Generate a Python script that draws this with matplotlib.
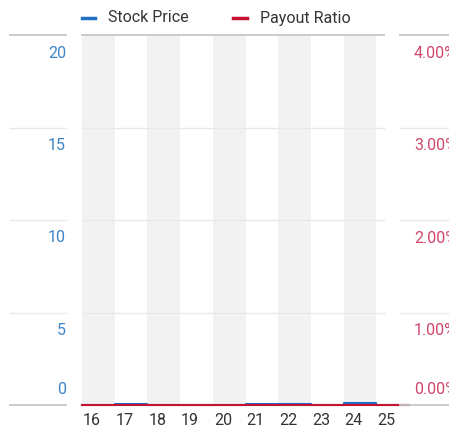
import numpy as np
import matplotlib.pyplot as plt
from matplotlib.lines import Line2D
from matplotlib.transforms import ScaledTranslation

# data
years = ['16', '17', '18', '19', '20', '21', '22', '23', '24', '25']
stock_price = [0.0, 0.08, 0.0, 0.0, 0.0, 0.08, 0.08, 0.0, 0.09, 0.0]
payout_ratio = [0.0, 0.0, 0.0, 0.0, 0.0, 0.0, 0.0, 0.0, 0.0, 0.0]
left_ticks = [0, 5, 10, 15, 20]
right_ticks = [0.0, 0.01, 0.02, 0.03, 0.04]
right_labels = ['0.00%', '1.00%', '2.00%', '3.00%', '4.00%']

plt.rcParams['font.family'] = ['Roboto', 'DejaVu Sans']

blue = '#1f6fc5'
red = '#c41230'
blue_txt = '#3d85c6'
red_txt = '#d1466a'
fs = 11.5

fig = plt.figure(figsize=(4.49, 4.32), dpi=100)
W, H = 449, 432
ax = fig.add_axes([82 / W, 27 / H, 327 / W, 370 / H])
ax2 = ax.twinx()

n = len(years)
ax.set_xlim(-0.5, n - 0.5)
ax.set_ylim(0, 20)
ax2.set_ylim(0, 0.04)

# alternating shaded columns
for i in range(0, n, 2):
    ax.axvspan(i - 0.5, i + 0.5, color='#f2f2f2', lw=0, zorder=0)

x = np.arange(n + 1) - 0.5
ax.plot(x, np.append(stock_price, stock_price[-1]), drawstyle='steps-post',
        color=blue, lw=1.5, zorder=3, clip_on=False)
ax2.plot(x, np.append(payout_ratio, payout_ratio[-1]), drawstyle='steps-post',
         color=red, lw=1.5, zorder=3, clip_on=False)

for a in (ax, ax2):
    for s in a.spines.values():
        s.set_visible(False)
    a.set_yticks([])
    a.tick_params(length=0)

ax.set_xticks(np.arange(n) - 0.47)
ax.set_xticklabels(years, ha='left', fontsize=fs, color='#333333')
ax.tick_params(axis='x', pad=6)

# gridlines: side pieces on the figure, middle piece inside the axes
mid_end = (384 - 82) / 327
for k, v in enumerate(left_ticks):
    edge = k == 0 or k == len(left_ticks) - 1
    color = '#c6c6c6' if edge else '#e8e8e8'
    lw = 1.3 if edge else 1.0
    ax.axhline(v, 0, mid_end, color=color, lw=lw, zorder=1, clip_on=False)
    yf = ax.transData.transform((0, v))[1] / H
    for x0, x1 in [(10, 66), (400, 449)]:
        fig.add_artist(Line2D([x0 / W, x1 / W], [yf, yf], color=color, lw=lw))

# axis labels under gridlines (zero one sits above)
for k, v in enumerate(left_ticks):
    dy = 15 if k == 0 else -18
    tr = ax.get_yaxis_transform() + ScaledTranslation(0, dy / 100, fig.dpi_scale_trans)
    ax.text(-16 / 327, v, str(v), transform=tr, ha='right', va='center',
            fontsize=fs, color=blue_txt)
for k, (v, lab) in enumerate(zip(right_ticks, right_labels)):
    dy = 15 if k == 0 else -18
    tr = ax2.get_yaxis_transform() + ScaledTranslation(0, dy / 100, fig.dpi_scale_trans)
    ax2.text(1 + 5 / 327, v, lab, transform=tr, ha='left', va='center',
             fontsize=fs, color=red_txt, clip_on=False)

# legend
ly = 1 - 18 / H
fig.add_artist(Line2D([82 / W, 95 / W], [ly, ly], color=blue, lw=2.5))
fig.text(108 / W, ly, 'Stock Price', fontsize=fs, color='#333333', va='center')
fig.add_artist(Line2D([233 / W, 247 / W], [ly, ly], color=red, lw=2.5))
fig.text(260 / W, ly, 'Payout Ratio', fontsize=fs, color='#333333', va='center')

fig.savefig('out.png', dpi=100)
